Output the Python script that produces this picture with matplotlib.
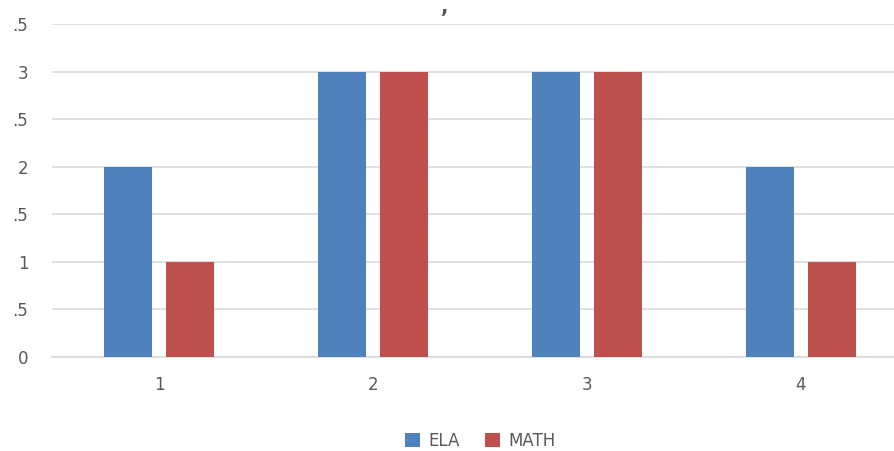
import numpy as np
import matplotlib.pyplot as plt

categories = ['1', '2', '3', '4']
ela = [2, 3, 3, 2]
math_scores = [1, 3, 3, 1]
ytick_vals = [0, 0.5, 1, 1.5, 2, 2.5, 3, 3.5]
ytick_labels = ['0', '.5', '1', '.5', '2', '.5', '3', '.5']

fig = plt.figure(figsize=(8.94, 4.51), dpi=100)
ax = fig.add_axes([52 / 894, 94 / 451, 856 / 894, 333 / 451])

x = np.arange(len(categories))
w = 0.224
ax.bar(x - 0.143, ela, w, color='#4F81BD', label='ELA', zorder=3)
ax.bar(x + 0.143, math_scores, w, color='#C0504D', label='MATH', zorder=3)

ax.set_xlim(-0.5, 3.5)
ax.set_ylim(0, 3.5)
ax.set_yticks(ytick_vals)
ax.set_yticklabels(ytick_labels)
ax.set_xticks(x)
ax.set_xticklabels(categories)
ax.grid(axis='y', color='#D9D9D9', linewidth=1.2, zorder=0)
for s in ['top', 'right', 'left']:
    ax.spines[s].set_visible(False)
ax.spines['bottom'].set_color('#D9D9D9')
ax.spines['bottom'].set_linewidth(1.2)
ax.tick_params(axis='y', length=0, pad=17, labelsize=12, labelcolor='#595959')
ax.tick_params(axis='x', length=0, pad=14, labelsize=12, labelcolor='#595959')

fig.text(445 / 894, 1 - 8 / 451, ',', fontsize=14, color='#595959',
         ha='center', va='center', fontweight='bold')

ax.legend(loc='center', bbox_to_anchor=(480 / 894, 1 - 441 / 451),
          bbox_transform=fig.transFigure, ncol=2, frameon=False,
          fontsize=12, labelcolor='#595959', handlelength=0.9, handleheight=0.9,
          columnspacing=1.5, handletextpad=0.5)

fig.savefig('out.png', dpi=100)
